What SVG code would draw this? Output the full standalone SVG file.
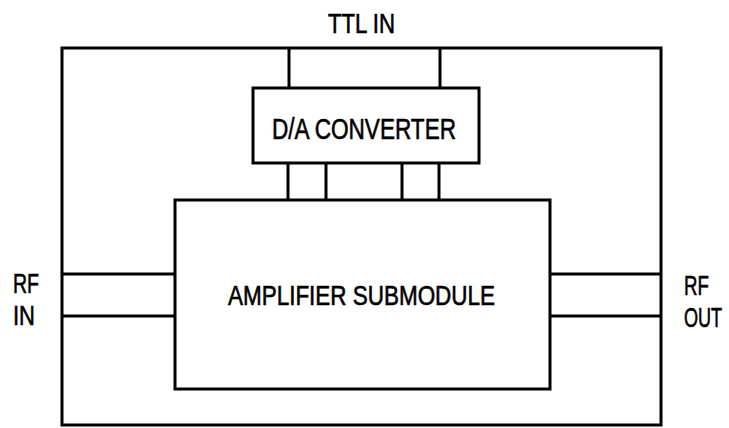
<svg xmlns="http://www.w3.org/2000/svg" width="729" height="428" viewBox="0 0 729 428">
<style>
.box{fill:none;stroke:#000;stroke-width:3}
.wire{fill:none;stroke:#000;stroke-width:3}
.lbl{font-family:"Liberation Sans Narrow","Liberation Sans",Arial,sans-serif;fill:#000;stroke:#000;stroke-width:0.6}
</style>
<rect width="729" height="428" fill="#fff"/>
<g id="module">
<rect class="box" x="62" y="48" width="599" height="377"/>
</g>
<g id="connectors">
<line class="wire" x1="289" y1="48" x2="289" y2="88"/>
<line class="wire" x1="440" y1="48" x2="440" y2="88"/>
<line class="wire" x1="288" y1="163" x2="288" y2="200"/>
<line class="wire" x1="326" y1="163" x2="326" y2="200"/>
<line class="wire" x1="402" y1="163" x2="402" y2="200"/>
<line class="wire" x1="439" y1="163" x2="439" y2="200"/>
<line class="wire" x1="62" y1="274" x2="175" y2="274"/>
<line class="wire" x1="62" y1="316" x2="175" y2="316"/>
<line class="wire" x1="550" y1="274" x2="661" y2="274"/>
<line class="wire" x1="550" y1="316" x2="661" y2="316"/>
</g>
<g id="dac">
<rect class="box" x="253" y="88" width="226" height="75"/>
<text class="lbl" x="272" y="139" font-size="30" textLength="184" lengthAdjust="spacingAndGlyphs">D/A CONVERTER</text>
</g>
<g id="amplifier">
<rect class="box" x="175" y="200" width="375" height="189"/>
<text class="lbl" x="228" y="305" font-size="27" textLength="267" lengthAdjust="spacingAndGlyphs">AMPLIFIER SUBMODULE</text>
</g>
<g id="labels">
<text class="lbl" x="328" y="33" font-size="27" textLength="67" lengthAdjust="spacingAndGlyphs">TTL IN</text>
<text class="lbl" x="13" y="293" font-size="27" textLength="26" lengthAdjust="spacingAndGlyphs">RF</text>
<text class="lbl" x="13" y="325" font-size="27" textLength="22" lengthAdjust="spacingAndGlyphs">IN</text>
<text class="lbl" transform="translate(684,295) scale(0.69,1)" x="0" y="0" font-size="27">RF</text>
<text class="lbl" transform="translate(684,327) scale(0.67,1)" x="0" y="0" font-size="27">OUT</text>
</g>
</svg>
